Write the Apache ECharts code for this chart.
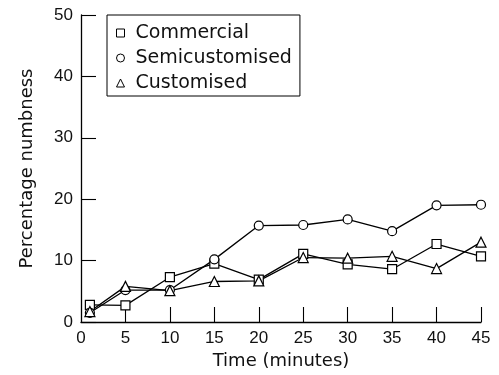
<!DOCTYPE html>
<html>
<head>
<meta charset="utf-8">
<script src="https://cdn.jsdelivr.net/npm/echarts@6/dist/echarts.min.js"></script>
<style>
  html, body { margin: 0; padding: 0; background: #fff; }
  #chart { width: 499px; height: 375px; }
</style>
</head>
<body>
<div id="chart"></div>
<script>
// Time points (minutes) and percentage numbness for each splint type
const timeMinutes = [1, 5, 10, 15, 20, 25, 30, 35, 40, 45];
const commercial = [2.8, 2.7, 7.3, 9.5, 6.9, 11.1, 9.4, 8.6, 12.7, 10.7];
const semicustomised = [1.5, 5.2, 5.2, 10.2, 15.7, 15.8, 16.7, 14.8, 19.0, 19.1];
const customised = [1.7, 5.8, 5.1, 6.6, 6.7, 10.5, 10.4, 10.7, 8.7, 13.0];

// Axis tick / label positions
const xLabelValues = [0, 1, 5, 10, 15, 20, 25, 30, 35, 40, 45];
const xTickValues = [5, 10, 15, 20, 25, 30, 35, 40, 45];

const textFont = 'DejaVu Sans';
const digitFont = 'Liberation Sans';

function pairs(values) {
  return timeMinutes.map((t, i) => [t, values[i]]);
}

const markerStyle = { color: '#fff', borderColor: '#000', borderWidth: 1.2 };
const lineStyle = { color: '#000', width: 1.3 };

function makeSeries(name, values, symbol, size) {
  return {
    name: name,
    type: 'line',
    data: pairs(values),
    symbol: symbol,
    symbolSize: size,
    showAllSymbol: true,
    lineStyle: lineStyle,
    itemStyle: markerStyle,
    emphasis: { disabled: true },
    z: 3
  };
}

const chart = echarts.init(document.getElementById('chart'), null, { renderer: 'canvas' });

chart.setOption({
  animation: false,
  backgroundColor: '#fff',
  grid: { left: 81, right: 18, top: 15, bottom: 53, containLabel: false },
  legend: {
    orient: 'vertical',
    left: 107,
    top: 15,
    padding: [8, 8, 3, 9],
    itemGap: 5,
    itemWidth: 8,
    itemHeight: 8,
    borderColor: '#000',
    borderWidth: 1,
    backgroundColor: '#fff',
    itemStyle: { color: '#fff', borderColor: '#000', borderWidth: 1 },
    textStyle: { fontFamily: textFont, fontSize: 19, color: '#111', lineHeight: 20, padding: [0, 0, 0, 6] },
    data: [
      { name: 'Commercial', icon: 'rect' },
      { name: 'Semicustomised', icon: 'circle' },
      { name: 'Customised', icon: 'triangle' }
    ]
  },
  xAxis: {
    type: 'value',
    min: 0,
    max: 45,
    interval: 5,
    name: 'Time (minutes)',
    nameLocation: 'middle',
    nameGap: 27,
    nameTextStyle: { fontFamily: textFont, fontSize: 18, color: '#111' },
    axisLine: { show: true, onZero: false, lineStyle: { color: '#000', width: 1.3 } },
    axisTick: { show: true, inside: true, length: 15, customValues: xTickValues, lineStyle: { color: '#000', width: 1.1 } },
    axisLabel: { customValues: xLabelValues, showMinLabel: true, showMaxLabel: true, margin: 8, fontFamily: digitFont, fontSize: 17, color: '#111', hideOverlap: false },
    splitLine: { show: false }
  },
  yAxis: {
    type: 'value',
    min: 0,
    max: 50,
    interval: 10,
    name: 'Percentage numbness',
    nameLocation: 'middle',
    nameGap: 45,
    nameTextStyle: { fontFamily: textFont, fontSize: 18, color: '#111' },
    axisLine: { show: true, onZero: false, lineStyle: { color: '#000', width: 1.3 } },
    axisTick: { show: true, inside: true, length: 15, lineStyle: { color: '#000', width: 1.1 } },
    axisLabel: { showMinLabel: true, showMaxLabel: true, margin: 8, fontFamily: digitFont, fontSize: 17, color: '#111' },
    splitLine: { show: false }
  },
  series: [
    makeSeries('Commercial', commercial, 'rect', 9),
    makeSeries('Semicustomised', semicustomised, 'circle', 9),
    makeSeries('Customised', customised, 'triangle', 10)
  ]
});
</script>
</body>
</html>
